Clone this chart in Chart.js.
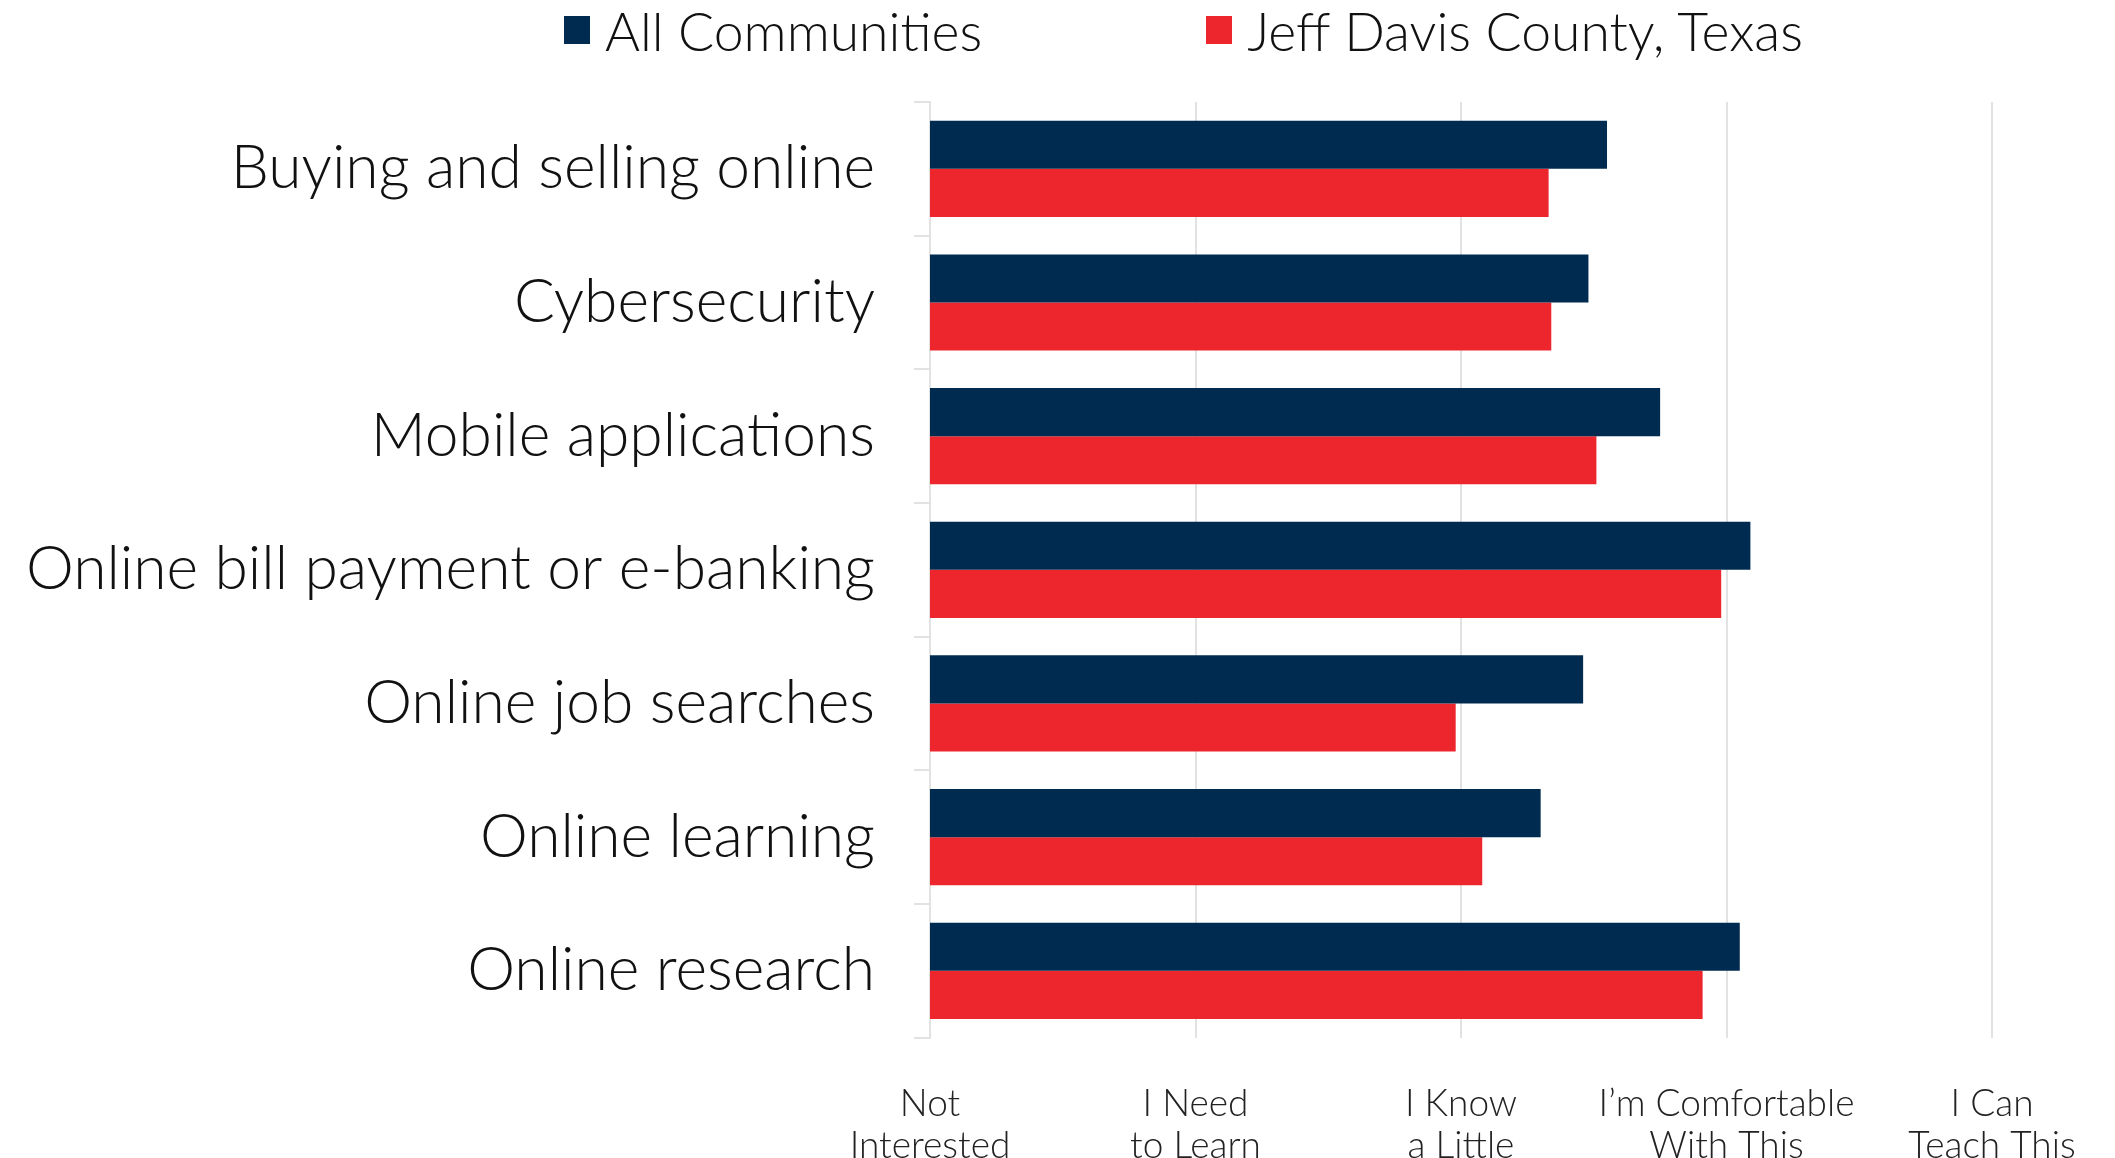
<!DOCTYPE html>
<html>
<head>
<meta charset="utf-8">
<script src="https://cdn.jsdelivr.net/npm/chart.js@4.4.1/dist/chart.umd.min.js"></script>
<style>
  html, body { margin: 0; padding: 0; background: #fff; overflow: hidden; }
  #wrap { position: relative; width: 2115px; height: 1212px; }
  #legend { position: absolute; left: 564px; top: -2px; display: flex; font-family: Lato, sans-serif; font-weight: 300; font-size: 53.5px; color: #111; }
  .item { display: flex; align-items: center; margin-right: 224px; }
  .box { width: 26px; height: 28px; margin-right: 15px; }
</style>
</head>
<body>
<div id="wrap">
  <div id="legend"></div>
  <canvas id="skillsChart"></canvas>
</div>
<script>
// Survey topics (y axis)
const categories = [
  'Buying and selling online',
  'Cybersecurity',
  'Mobile applications',
  'Online bill payment or e-banking',
  'Online job searches',
  'Online learning',
  'Online research'
];

// average comfort level, 1 = Not Interested ... 5 = I Can Teach This
const allCommunities = [3.55, 3.48, 3.75, 4.09, 3.46, 3.30, 4.05];
const jeffDavis = [3.33, 3.34, 3.51, 3.98, 2.98, 3.08, 3.91];

// x axis tick labels
const skillLevels = [
  ['Not', 'Interested'],
  ['I Need', 'to Learn'],
  ['I Know', 'a Little'],
  ['I\u2019m Comfortable', 'With This'],
  ['I Can', 'Teach This']
];

const seriesNames = ['All Communities', 'Jeff Davis County, Texas'];
const seriesColors = ['#002b51', '#ed262e'];

document.addEventListener('DOMContentLoaded', function() {
  const canvas = document.getElementById('skillsChart');

  const chart = new Chart(canvas.getContext('2d'), {
    type: 'bar',
    data: {
      labels: categories,
      datasets: [
        { label: seriesNames[0], data: allCommunities, backgroundColor: seriesColors[0] },
        { label: seriesNames[1], data: jeffDavis, backgroundColor: seriesColors[1] }
      ]
    },
    options: {
      indexAxis: 'y',
      responsive: true,
      maintainAspectRatio: false,
      animation: false,
      categoryPercentage: 0.72,
      barPercentage: 1.0,
      layout: { padding: { top: 102, right: 123, left: 0, bottom: 0 } },
      plugins: {
        legend: { display: false },
        tooltip: { enabled: false }
      },
      scales: {
        x: {
          min: 1,
          max: 5,
          // let layout padding decide the right edge, not the last label
          afterFit: function(scale) { scale.paddingRight = 0; },
          ticks: {
            stepSize: 1,
            padding: 45,
            maxRotation: 0,
            color: '#222',
            font: { family: 'Lato', weight: '300', size: 37, lineHeight: 1.14 },
            callback: function(value) { return skillLevels[value - 1]; }
          },
          grid: { color: '#e2e2e2', lineWidth: 2, drawTicks: false },
          border: { display: false }
        },
        y: {
          afterFit: function(scale) { scale.width = 930; },
          ticks: {
            padding: 39,
            color: '#111',
            font: { family: 'Lato', weight: '300', size: 60.5 }
          },
          grid: { drawOnChartArea: false, drawTicks: true, tickLength: 16, color: '#e2e2e2', lineWidth: 2 },
          border: { display: true, color: '#e2e2e2', width: 2 }
        }
      }
    }
  });

  // legend built from the datasets
  const legend = document.getElementById('legend');
  chart.data.datasets.forEach(function(ds) {
    const item = document.createElement('div');
    item.className = 'item';
    const box = document.createElement('span');
    box.className = 'box';
    box.style.background = ds.backgroundColor;
    const txt = document.createElement('span');
    txt.textContent = ds.label;
    item.appendChild(box);
    item.appendChild(txt);
    legend.appendChild(item);
  });
});
</script>
</body>
</html>
